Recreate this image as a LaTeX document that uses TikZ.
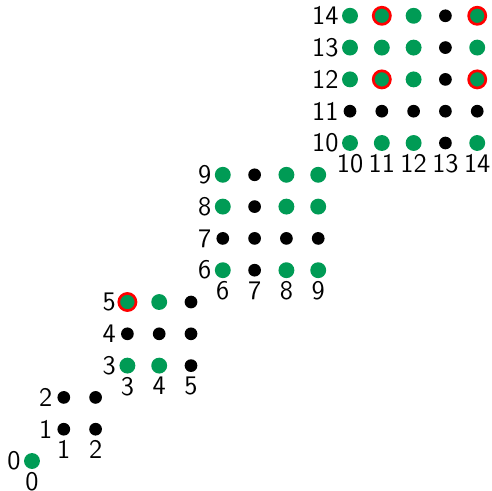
\documentclass[tikz,border=0pt]{standalone}
\usepackage{tikz}
\definecolor{dotgreen}{RGB}{0,155,85}
\tikzset{
  rowlabel/.style={anchor=east, inner sep=0pt, font=\sffamily\large},
  collabel/.style={anchor=north, inner sep=0pt, font=\sffamily\large},
  smalldot/.style={fill=black},
  bigdot/.style={fill=dotgreen},
  ring/.style={draw=red, line width=1.2pt},
}
\begin{document}
\begin{tikzpicture}[x=0.5cm,y=0.5cm]
    \useasboundingbox (-1.006,-0.912) rectangle (14.465,14.497);

    % diagonal blocks: black dot on every point, indices along the edges
    \foreach \lo/\hi in {0/0,1/2,3/5,6/9,10/14} {
        \foreach \i in {\lo,...,\hi}
            \foreach \j in {\lo,...,\hi}
                \fill[smalldot] (\i,\j) circle[radius=0.2];
        \foreach \k in {\lo,...,\hi} {
            \node[rowlabel] (row\k) at (\lo-0.35,\k) {\k};
            \node[collabel] (col\k) at (\k,\lo-0.35) {\k};
        }
    }

    % green points
    \foreach \p in {(0,0),
                    (3,3),(4,3),(3,5),(4,5),
                    (6,6),(8,6),(9,6),(6,8),(8,8),(9,8),(6,9),(8,9),(9,9),
                    (10,10),(11,10),(12,10),(14,10),
                    (10,12),(11,12),(12,12),(14,12),
                    (10,13),(11,13),(12,13),(14,13),
                    (10,14),(11,14),(12,14),(14,14)}
        \fill[bigdot] \p circle[radius=0.25];

    % marked points
    \foreach \p in {(3,5),(11,12),(11,14),(14,12),(14,14)}
        \draw[ring] \p circle[radius=0.27];
\end{tikzpicture}
\end{document}
